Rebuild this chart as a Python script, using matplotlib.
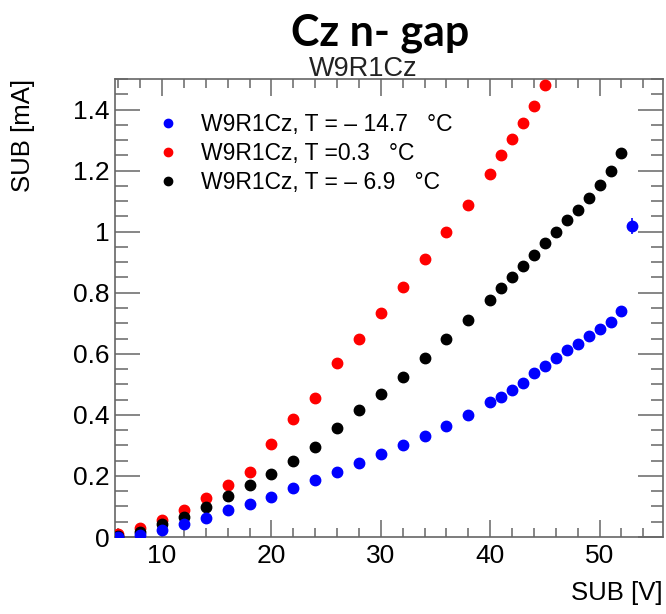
import matplotlib
matplotlib.use("Agg")
import matplotlib.pyplot as plt
from matplotlib.ticker import MultipleLocator, FuncFormatter
from matplotlib.lines import Line2D

# ---- data ----
v_blue = [6, 8, 10, 12, 14, 16, 18, 20, 22, 24, 26, 28, 30, 32, 34, 36, 38, 40,
          41, 42, 43, 44, 45, 46, 47, 48, 49, 50, 51, 52, 53]
i_blue = [0.000, 0.007, 0.022, 0.042, 0.063, 0.087, 0.109, 0.132, 0.159, 0.187,
          0.213, 0.242, 0.271, 0.301, 0.331, 0.364, 0.400, 0.441, 0.460, 0.483,
          0.506, 0.537, 0.560, 0.585, 0.612, 0.632, 0.658, 0.682, 0.705, 0.741, 1.019]
e_blue = [0.003] * 30 + [0.027]

v_red = [6, 8, 10, 12, 14, 16, 18, 20, 22, 24, 26, 28, 30, 32, 34, 36, 38, 40,
         41, 42, 43, 44, 45]
i_red = [0.009, 0.030, 0.056, 0.088, 0.127, 0.169, 0.214, 0.305, 0.387, 0.454,
         0.570, 0.649, 0.735, 0.819, 0.909, 0.998, 1.088, 1.189, 1.251, 1.303,
         1.355, 1.412, 1.480]

v_black = [6, 8, 10, 12, 14, 16, 18, 20, 22, 24, 26, 28, 30, 32, 34, 36, 38, 40,
           41, 42, 43, 44, 45, 46, 47, 48, 49, 50, 51, 52]
i_black = [0.004, 0.017, 0.042, 0.067, 0.097, 0.133, 0.169, 0.205, 0.249, 0.295,
           0.357, 0.415, 0.467, 0.525, 0.587, 0.649, 0.712, 0.776, 0.816, 0.853,
           0.889, 0.924, 0.962, 0.998, 1.039, 1.071, 1.111, 1.153, 1.200, 1.257]

labels = ["W9R1Cz, T = \u2013 14.7   \u00b0C",
          "W9R1Cz, T =0.3   \u00b0C",
          "W9R1Cz, T = \u2013 6.9   \u00b0C"]
colors = ['#0000ff', '#ff0000', 'black']

title = "Cz n- gap"
subtitle = "W9R1Cz"
xlabel = "SUB [V]"
ylabel = "SUB [mA]"

# ---- figure ----
plt.rcParams['font.family'] = ['Liberation Sans', 'DejaVu Sans']
fig = plt.figure(figsize=(6.66, 6.14), dpi=100)
ax = fig.add_axes([0.1727, 0.1254, 0.8228, 0.7459])

ms = 7.5
ax.errorbar(v_blue, i_blue, yerr=e_blue, fmt='o', color=colors[0], ms=ms,
            elinewidth=1.2, capsize=0, zorder=3)
ax.plot(v_red, i_red, 'o', color=colors[1], ms=ms, zorder=3)
ax.plot(v_black, i_black, 'o', color=colors[2], ms=ms, zorder=3)

ax.set_xlim(5.7, 55.8)
ax.set_ylim(0, 1.5)

spine_c = '#666666'
for s in ax.spines.values():
    s.set_color(spine_c)
    s.set_linewidth(1.2)

ax.xaxis.set_major_locator(MultipleLocator(10))
ax.xaxis.set_minor_locator(MultipleLocator(2))
ax.yaxis.set_major_locator(MultipleLocator(0.2))
ax.yaxis.set_minor_locator(MultipleLocator(0.05))

def yfmt(v, pos):
    s = f"{v:.1f}"
    if s.endswith(".0"):
        s = s[:-2]
    return s
ax.yaxis.set_major_formatter(FuncFormatter(yfmt))

ax.tick_params(axis='x', which='major', direction='in', length=12, width=1.1,
               color=spine_c, top=True, labelsize=19, pad=5)
ax.tick_params(axis='x', which='minor', direction='in', length=6.5, width=1.1,
               color=spine_c, top=True)
ax.tick_params(axis='y', which='major', direction='in', length=18, width=1.1,
               color=spine_c, right=True, labelsize=19, pad=4)
ax.tick_params(axis='y', which='minor', direction='in', length=9, width=1.1,
               color=spine_c, right=True)

fig.text(0.9955, 0.034, xlabel, ha='right', va='center', fontsize=18.5)
fig.text(0.034, 0.871, ylabel, ha='center', va='top', rotation=90, fontsize=18.5)

fig.text(0.571, 0.946, title, ha='center', va='center', fontsize=31,
         fontweight='bold', family=['Lato', 'DejaVu Sans'])
fig.text(0.545, 0.8665, subtitle, ha='center', va='bottom', fontsize=19.5,
         color='#222222')

handles = [Line2D([], [], ls='none', marker='o', color=c, ms=6) for c in colors]
leg = ax.legend(handles, labels, loc='upper left', bbox_to_anchor=(0.085, 0.925),
                frameon=False, fontsize=16.5, handlelength=0.6,
                handletextpad=1.1, labelspacing=0.25, borderaxespad=0.0,
                borderpad=0.0)

fig.savefig("out.png", dpi=100)
